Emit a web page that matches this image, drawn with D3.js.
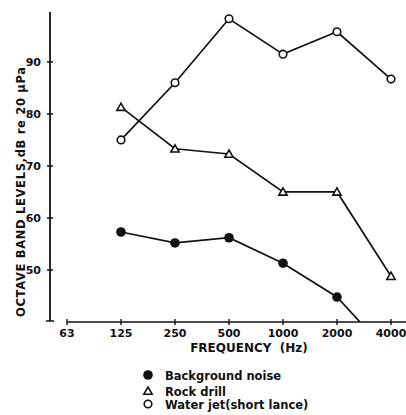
<!DOCTYPE html>
<html><head><meta charset="utf-8">
<script src="https://cdn.jsdelivr.net/npm/d3@7"></script>
<style>
html,body{margin:0;padding:0;background:#fff;}
svg{display:block;}
text{font-family:"DejaVu Sans",sans-serif;font-weight:bold;fill:#111;}
</style></head>
<body>
<script>
const freqLabels = ["63","125","250","500","1000","2000","4000"];
const bandFreqs = ["125","250","500","1000","2000","4000"];
const backgroundNoise = [57.3, 55.2, 56.2, 51.3, 44.8, 33.5];
const rockDrill = [81.3, 73.3, 72.3, 65.0, 65.0, 48.8];
const waterJet = [75.0, 86.0, 98.3, 91.5, 95.8, 86.7];
const yTicks = [50, 60, 70, 80, 90];
const seriesNames = ["Background noise", "Rock drill", "Water jet(short lance)"];

const W = 406, H = 415;
const svg = d3.select("body").append("svg").attr("width", W).attr("height", H);
const ink = "#111";

const x = d3.scalePoint().domain(freqLabels).range([67, 391]);
const y = d3.scaleLinear().domain([40, 99.6]).range([322, 12]);

// clip
svg.append("clipPath").attr("id","plot").append("rect")
  .attr("x", 40).attr("y", 0).attr("width", W - 40).attr("height", y(40));

// Y axis
const yAxisX = 50;
svg.append("line").attr("x1", yAxisX).attr("x2", yAxisX).attr("y1", y.range()[1]).attr("y2", y(40) - 1)
  .attr("stroke", ink).attr("stroke-width", 1.8);
svg.append("line").attr("x1", yAxisX - 4).attr("x2", yAxisX + 4).attr("y1", y(40) - 1).attr("y2", y(40) - 1)
  .attr("stroke", ink).attr("stroke-width", 1.5);
const yg = svg.append("g");
yg.selectAll("line.t").data(yTicks).join("line")
  .attr("x1", yAxisX - 3).attr("x2", yAxisX + 3)
  .attr("y1", d => y(d)).attr("y2", d => y(d))
  .attr("stroke", ink).attr("stroke-width", 1.5);
yg.selectAll("text").data(yTicks).join("text")
  .attr("x", 41).attr("y", d => y(d) + 4)
  .attr("text-anchor", "end").attr("font-size", 11)
  .text(d => d);

// X axis
const xAxisY = y(40);
svg.append("line").attr("x1", x("63")).attr("x2", W).attr("y1", xAxisY).attr("y2", xAxisY)
  .attr("stroke", ink).attr("stroke-width", 1.6);
const xg = svg.append("g");
xg.selectAll("line").data(freqLabels).join("line")
  .attr("x1", d => x(d)).attr("x2", d => x(d))
  .attr("y1", xAxisY - 3).attr("y2", xAxisY + 3)
  .attr("stroke", ink).attr("stroke-width", 1.4);
xg.selectAll("text").data(freqLabels).join("text")
  .attr("x", d => x(d)).attr("y", xAxisY + 15)
  .attr("text-anchor", "middle").attr("font-size", 11)
  .text(d => d);

svg.append("text").attr("x", 249).attr("y", 352)
  .attr("text-anchor", "middle").attr("font-size", 12)
  .style("white-space", "pre")
  .text("FREQUENCY  (Hz)");

svg.append("text")
  .attr("transform", "translate(25,192) rotate(-90)")
  .attr("text-anchor", "middle").attr("font-size", 11.5)
  .attr("textLength", 250).attr("lengthAdjust", "spacing")
  .text("OCTAVE BAND LEVELS,dB re 20 \u03bcPa");

// series
const line = d3.line().x(d => x(d.f)).y(d => y(d.v));
const mk = arr => bandFreqs.map((f, i) => ({f, v: arr[i]}));
const series = [
  {name: seriesNames[0], data: mk(backgroundNoise), shape: "filled"},
  {name: seriesNames[1], data: mk(rockDrill), shape: "triangle"},
  {name: seriesNames[2], data: mk(waterJet), shape: "circle"}
];

const triPath = d3.symbol().type(d3.symbolTriangle).size(30);

function drawMarker(g, shape, cx, cy) {
  if (shape === "filled") {
    g.append("circle").attr("cx", cx).attr("cy", cy).attr("r", 4.8).attr("fill", ink);
  } else if (shape === "circle") {
    g.append("circle").attr("cx", cx).attr("cy", cy).attr("r", 3.8)
      .attr("fill", "#fff").attr("stroke", ink).attr("stroke-width", 1.6);
  } else {
    g.append("path").attr("d", triPath()).attr("transform", `translate(${cx},${cy + 0.8})`)
      .attr("fill", "#fff").attr("stroke", ink).attr("stroke-width", 1.6);
  }
}

const plot = svg.append("g").attr("clip-path", "url(#plot)");
series.forEach(s => {
  plot.append("path").attr("d", line(s.data)).attr("fill", "none")
    .attr("stroke", ink).attr("stroke-width", 1.7);
});
series.forEach(s => {
  const g = plot.append("g");
  s.data.forEach(d => drawMarker(g, s.shape, x(d.f), y(d.v)));
});

// legend
const legY = [375, 391, 404];
const leg = svg.append("g");
series.forEach((s, i) => {
  drawMarker(leg, s.shape, 148, legY[i]);
  leg.append("text").attr("x", 165).attr("y", legY[i] + 4.5)
    .attr("font-size", 11.5).text(s.name);
});
</script>
</body></html>
